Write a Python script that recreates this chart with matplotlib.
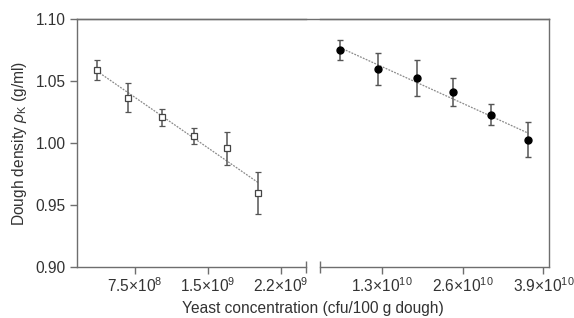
import numpy as np
import matplotlib.pyplot as plt
from matplotlib.lines import Line2D

plt.rcParams['font.family'] = ['Liberation Sans', 'DejaVu Sans']
plt.rcParams['mathtext.fontset'] = 'custom'
plt.rcParams['mathtext.rm'] = 'Liberation Sans'
plt.rcParams['mathtext.it'] = 'Liberation Sans:italic'
plt.rcParams['font.size'] = 11.2

# low yeast concentrations (open squares)
x_low = [3.6e8, 6.8e8, 1.03e9, 1.36e9, 1.70e9, 2.02e9]
y_low = [1.059, 1.0365, 1.0207, 1.0057, 0.9957, 0.9595]
e_low = [0.008, 0.0115, 0.0067, 0.0066, 0.0134, 0.017]

# high yeast concentrations (filled circles)
x_high = [6.3e9, 1.24e10, 1.86e10, 2.45e10, 3.06e10, 3.66e10]
y_high = [1.075, 1.0597, 1.0524, 1.0409, 1.0229, 1.0027]
e_high = [0.0078, 0.0128, 0.0143, 0.0113, 0.0083, 0.014]

ticks_low = [7.5e8, 1.5e9, 2.25e9]
labels_low = [r'7.5$\times$10$^{8}$', r'1.5$\times$10$^{9}$', r'2.2$\times$10$^{9}$']
ticks_high = [1.3e10, 2.6e10, 3.9e10]
labels_high = [r'1.3$\times$10$^{10}$', r'2.6$\times$10$^{10}$', r'3.9$\times$10$^{10}$']
yticks = [0.90, 0.95, 1.00, 1.05, 1.10]

spine_c = '#6e6e6e'
text_c = '#333333'

fig = plt.figure(figsize=(5.74, 3.18), dpi=100)
W, H = 574, 318
bot = (H - 267) / H
hgt = (267 - 19) / H
ax1 = fig.add_axes([77 / W, bot, (306 - 77) / W, hgt])
ax2 = fig.add_axes([320 / W, bot, (549 - 320) / W, hgt])

for ax in (ax1, ax2):
    ax.set_ylim(0.90, 1.10)
    for s in ax.spines.values():
        s.set_color(spine_c)
        s.set_linewidth(1.0)
    ax.tick_params(colors=spine_c, labelcolor=text_c, length=5, width=1.0, pad=3)
    ax.tick_params(axis='x', pad=1.5)

ax1.set_xlim(1.54e8, 2.51e9)
ax2.set_xlim(3.07e9, 3.99e10)
ax1.spines['right'].set_visible(False)
ax2.spines['left'].set_visible(False)
ax2.tick_params(axis='y', left=False, labelleft=False)
ax1.set_yticks(yticks)
ax1.set_yticklabels(['%.2f' % v for v in yticks])
ax1.set_xticks(ticks_low)
ax1.set_xticklabels(labels_low)
ax2.set_xticks(ticks_high)
ax2.set_xticklabels(labels_high)

# break caps on the x axis
ax1.plot([ax1.get_xlim()[1]], [0.90], marker='|', ms=8, mew=1.0, color=spine_c, clip_on=False)
ax2.plot([ax2.get_xlim()[0]], [0.90], marker='|', ms=8, mew=1.0, color=spine_c, clip_on=False)
# continuous top frame
fig.add_artist(Line2D([77 / W, 549 / W], [bot + hgt, bot + hgt], color=spine_c, lw=1.0))

# fitted lines
for ax, xs, ys in ((ax1, x_low, y_low), (ax2, x_high, y_high)):
    k, b = np.polyfit(xs, ys, 1)
    xx = np.array([xs[0], xs[-1]])
    ax.plot(xx, k * xx + b, color='#8a8a8a', lw=0.9, ls=(0, (1.5, 1)), zorder=1)

ax1.errorbar(x_low, y_low, yerr=e_low, fmt='s', ms=5, mfc='white', mec='#444444', mew=0.9,
             ecolor='#555555', elinewidth=1.1, capsize=2.5, capthick=1.0, zorder=3)
ax2.errorbar(x_high, y_high, yerr=e_high, fmt='o', ms=5, mfc='black', mec='black',
             ecolor='#555555', elinewidth=1.1, capsize=2.5, capthick=1.0, zorder=3)

ax1.set_ylabel(r'Dough density $\rho_\mathrm{K}$ (g/ml)', color=text_c, labelpad=5)
fig.text(313 / W, 5 / H, 'Yeast concentration (cfu/100 g dough)', ha='center', va='baseline',
         color=text_c)

fig.savefig('out.png', dpi=100)
